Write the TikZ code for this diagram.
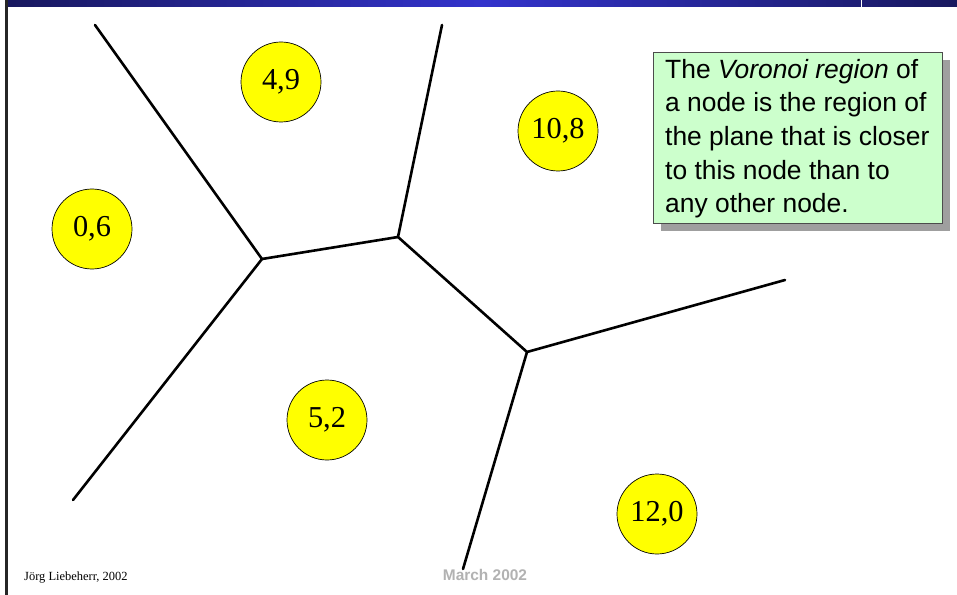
\documentclass[tikz,border=0pt]{standalone}
\usepackage{fontspec}
\setmainfont{Liberation Serif}
\newfontfamily\arialfont{Liberation Sans}
\definecolor{barDark}{HTML}{18185E}
\definecolor{barMid}{HTML}{3333CC}
\definecolor{calloutFill}{HTML}{CCFFCC}
\definecolor{footGray}{HTML}{B2B2B2}
\definecolor{siteYellow}{HTML}{FFFF00}
\tikzset{
  site/.style={circle, draw=black, line width=0.7bp, fill=siteYellow, minimum size=80bp, inner sep=0pt,
    font=\fontsize{30.5}{30.5}\selectfont},
  edge/.style={line width=2.6bp, black, line cap=round, line join=round},
}
\begin{document}
\begin{tikzpicture}[x=1bp, y=-1bp]
\useasboundingbox (0,0) rectangle (957,595);
\fill[white] (0,0) rectangle (957,595);
% top bar
\shade[left color=barDark, right color=barDark, middle color=barMid, shading angle=90] (7,0) rectangle (957,7);
\fill[white] (860.5,0) rectangle (861.5,8);
% left border
\draw[line width=2.6bp, black!85] (6.5,0) -- (6.5,595);

% Voronoi vertices and free ends
\coordinate (v1) at (262,259);
\coordinate (v2) at (398,237);
\coordinate (v3) at (527,352);
\coordinate (e1) at (95,25);
\coordinate (e2) at (73,500);
\coordinate (e3) at (442,25);
\coordinate (e4) at (785,280);
\coordinate (e5) at (463,569);

\draw[edge] (e1) -- (v1) -- (e2);
\draw[edge] (v1) -- (v2) -- (e3);
\draw[edge] (v2) -- (v3) -- (e4);
\draw[edge] (v3) -- (e5);

% sites
\node[site] (s49) at (281,82) {4,9};
\node[site] (s108) at (558,131) {10,8};
\node[site] (s06) at (92,229) {0,6};
\node[site] (s52) at (327,420) {5,2};
\node[site] (s120) at (657,514) {12,0};

% callout
\fill[gray!75] (661,60) rectangle (950,231);
\draw[fill=calloutFill, draw=black!70, line width=0.8bp] (653,52) rectangle (942,223);
\node[anchor=base west, inner sep=0pt, align=left, font=\arialfont\fontsize{26.5}{33.8}\selectfont] (callout) at (665,213)
 {The \textit{Voronoi region} of\\a node is the region of\\the plane that is closer\\to this node than to\\any other node.};

% footer
\node[anchor=base west, inner sep=0pt, font=\fontsize{12.5}{13}\selectfont] (author) at (24,580) {Jörg Liebeherr, 2002};
\node[anchor=base, inner sep=0pt, text=footGray, font=\arialfont\bfseries\fontsize{15.5}{16}\selectfont] (date) at (485,580) {March 2002};
\end{tikzpicture}
\end{document}
